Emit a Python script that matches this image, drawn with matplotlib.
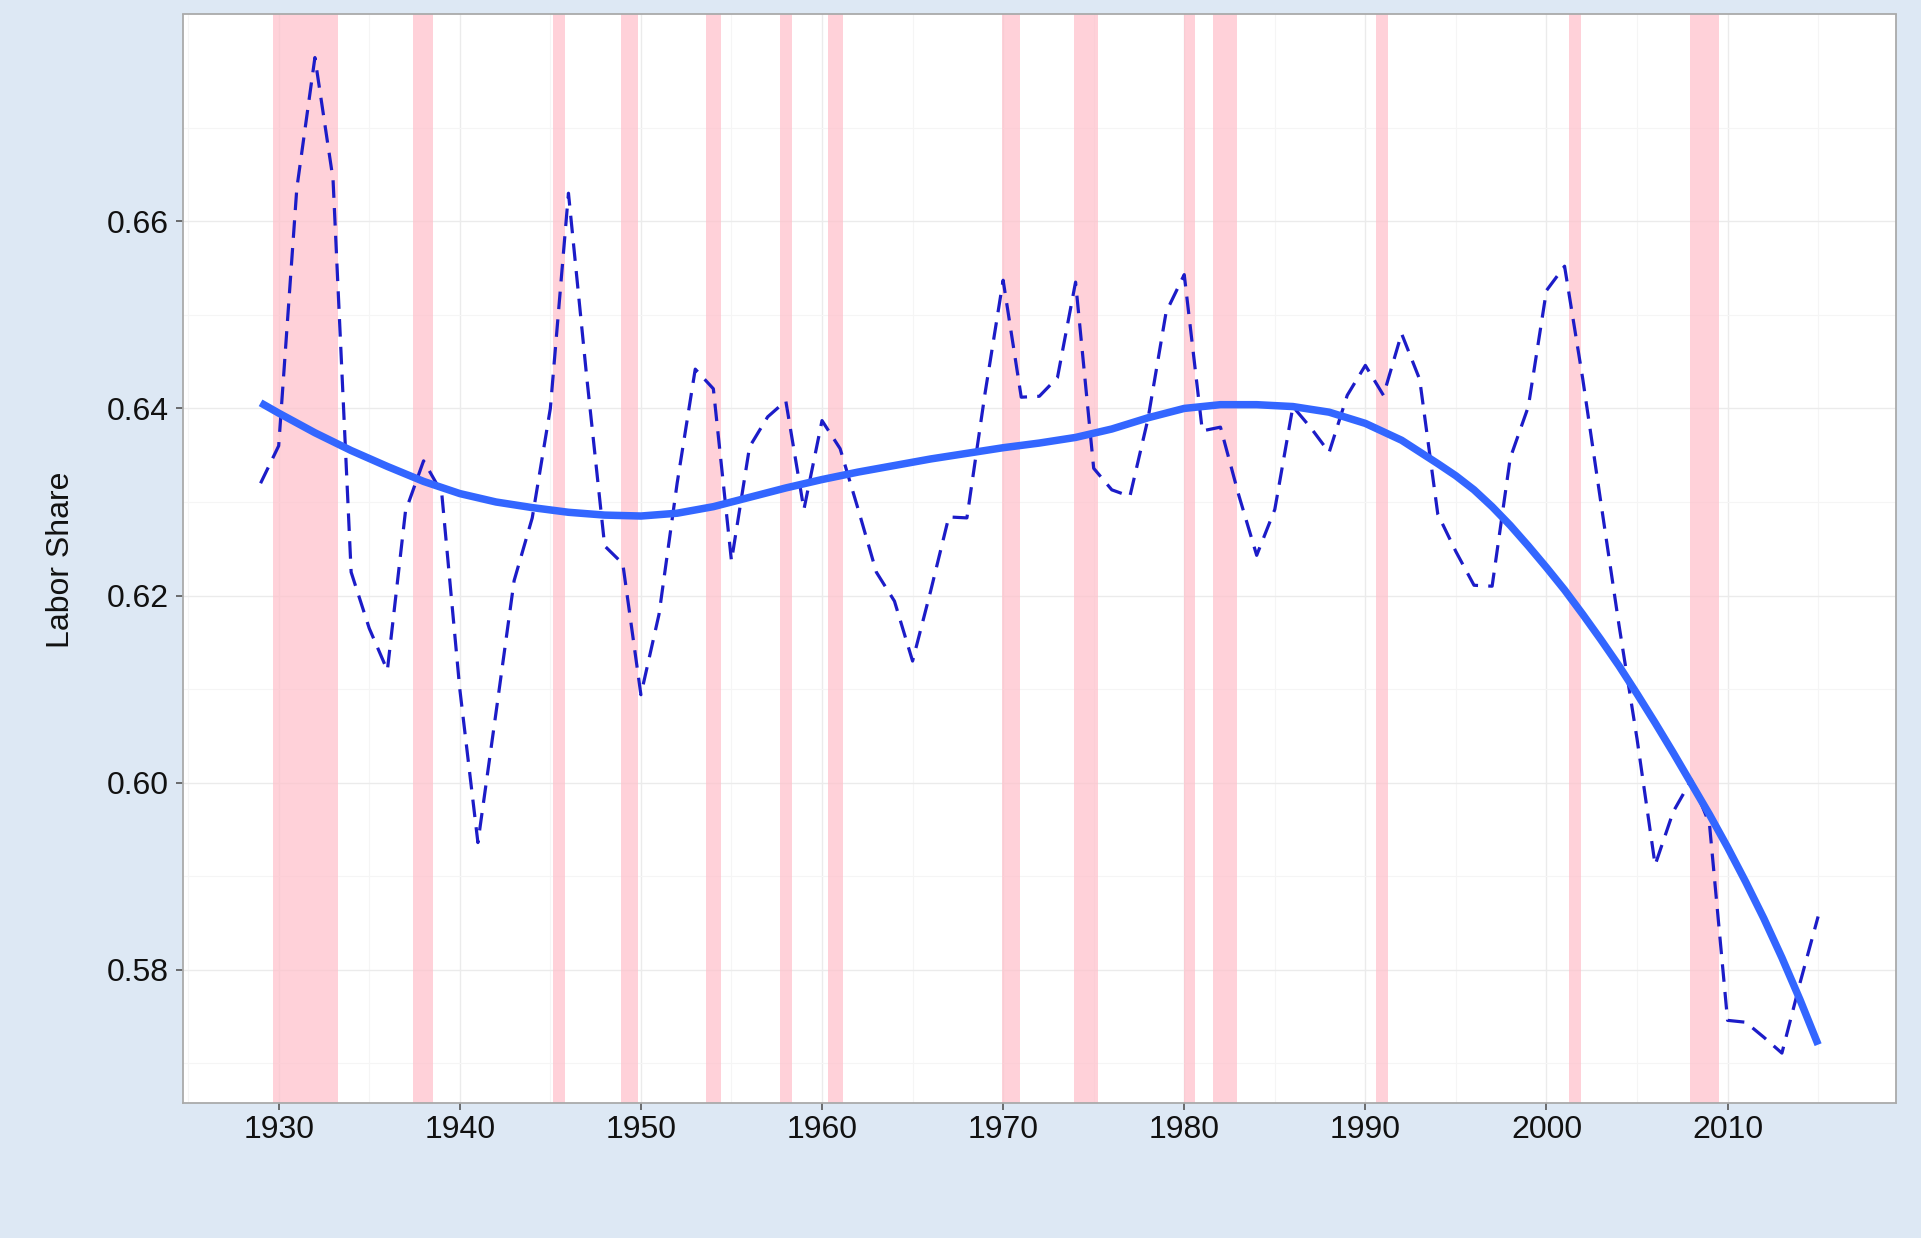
import matplotlib
matplotlib.use("Agg")
import matplotlib.pyplot as plt

# ---------------- data ----------------
years = list(range(1929, 2016))
labor_share = [
    0.6320, 0.6360, 0.6635, 0.6775, 0.6645, 0.6225, 0.6165, 0.6120, 0.6290, 0.6344,  # 1929-1938
    0.6310, 0.6100, 0.5936, 0.6075, 0.6216, 0.6283, 0.6400, 0.6630, 0.6435, 0.6253,  # 1939-1948
    0.6234, 0.6094, 0.6180, 0.6320, 0.6442, 0.6421, 0.6237, 0.6359, 0.6391, 0.6408,  # 1949-1958
    0.6292, 0.6387, 0.6357, 0.6292, 0.6225, 0.6194, 0.6130, 0.6205, 0.6284, 0.6283,  # 1959-1968
    0.6416, 0.6537, 0.6412, 0.6413, 0.6433, 0.6535, 0.6336, 0.6313, 0.6306, 0.6389,  # 1969-1978
    0.6503, 0.6543, 0.6376, 0.6380, 0.6308, 0.6243, 0.6292, 0.6402, 0.6379, 0.6353,  # 1979-1988
    0.6414, 0.6446, 0.6414, 0.6480, 0.6431, 0.6287, 0.6247, 0.6211, 0.6210, 0.6347,  # 1989-1998
    0.6402, 0.6526, 0.6552, 0.6432, 0.6300, 0.6169, 0.6047, 0.5912, 0.5969, 0.6003,  # 1999-2008
    0.5956, 0.5746, 0.5744, 0.5728, 0.5711, 0.5786, 0.5857,                          # 2009-2015
]

smooth_years = [1929, 1930, 1932, 1934, 1936, 1938, 1940, 1942, 1944, 1946, 1948,
                1950, 1952, 1954, 1956, 1958, 1960, 1962, 1964, 1966, 1968, 1970,
                1972, 1974, 1976, 1978, 1980, 1982, 1984, 1986, 1988, 1990, 1992,
                1994, 1995, 1996, 1997, 1998, 1999, 2000, 2001, 2002, 2003, 2004,
                2005, 2006, 2007, 2008, 2009, 2010, 2011, 2012, 2013, 2014, 2015]
smooth_values = [0.6406, 0.6395, 0.6374, 0.6355, 0.6338, 0.6322, 0.6309, 0.6300, 0.6294,
                 0.6289, 0.6286, 0.6285, 0.6288, 0.6295, 0.6305, 0.6315, 0.6324, 0.6332,
                 0.6339, 0.6346, 0.6352, 0.6358, 0.6363, 0.6369, 0.6378, 0.6390, 0.6400,
                 0.6404, 0.6404, 0.6402, 0.6396, 0.6384, 0.6366,
                 0.6341, 0.6328, 0.6313, 0.6295, 0.6275, 0.6253, 0.6230, 0.6206, 0.6180,
                 0.6153, 0.6125, 0.6095, 0.6064, 0.6032, 0.5999, 0.5966, 0.5931, 0.5894,
                 0.5855, 0.5813, 0.5768, 0.5720]

rec_start = [1929.67, 1937.42, 1945.17, 1948.92, 1953.58, 1957.67, 1960.33,
             1969.92, 1973.92, 1980.00, 1981.58, 1990.58, 2001.25, 2007.92]
rec_end = [1933.25, 1938.50, 1945.83, 1949.83, 1954.42, 1958.33, 1961.17,
           1970.92, 1975.25, 1980.58, 1982.92, 1991.25, 2001.92, 2009.50]

xticks = [1930, 1940, 1950, 1960, 1970, 1980, 1990, 2000, 2010]
xminor = [1925, 1935, 1945, 1955, 1965, 1975, 1985, 1995, 2005, 2015]
yticks = [0.58, 0.60, 0.62, 0.64, 0.66]
ytick_labels = ["0.58", "0.60", "0.62", "0.64", "0.66"]
yminor = [0.57, 0.59, 0.61, 0.63, 0.65, 0.67]
y_label = "Labor Share"

# ---------------- plot ----------------
plt.rcParams['font.family'] = ['Liberation Sans', 'DejaVu Sans']

W, H = 1921, 1238
fig = plt.figure(figsize=(W / 100, H / 100), dpi=100, facecolor='#dde8f4')
left, right, top, bottom = 182.7, 1896, 14.5, 1102.7
ax = fig.add_axes([left / W, 1 - bottom / H, (right - left) / W, (bottom - top) / H])
ax.set_facecolor('white')

for s, e in zip(rec_start, rec_end):
    ax.axvspan(s, e, color='#FFC0CB', alpha=0.72, lw=0, zorder=1)

ax.plot(years, labor_share, color='#1c1cc8', lw=2.3, dashes=(5.5, 3.2), zorder=3)
ax.plot(smooth_years, smooth_values, color='#3366FF', lw=5.4, zorder=4,
        solid_capstyle='butt', solid_joinstyle='round')

ax.set_xlim(1924.7, 2019.3)
ax.set_ylim(0.5658, 0.6821)
ax.set_xticks(xticks)
ax.set_xticklabels([str(x) for x in xticks])
ax.set_xticks(xminor, minor=True)
ax.set_yticks(yticks)
ax.set_yticklabels(ytick_labels)
ax.set_yticks(yminor, minor=True)

ax.set_axisbelow(True)
ax.grid(which='major', color='#ebebeb', lw=1.0, zorder=0)
ax.grid(which='minor', color='#f5f5f5', lw=0.8, zorder=0)

ax.tick_params(which='major', labelsize=23, length=5, width=1.2, color='#555555',
               pad=5, labelcolor='#111111')
ax.tick_params(axis='x', which='major', pad=4)
ax.tick_params(which='minor', length=0)
for sp in ax.spines.values():
    sp.set_color('#aaaaaa')
    sp.set_linewidth(1.3)

fig.text(61 / W, 1 - 560 / H, y_label, rotation=90, ha='center', va='center',
         fontsize=23, color='#111111')

fig.savefig('out.png', dpi=100, facecolor=fig.get_facecolor())
